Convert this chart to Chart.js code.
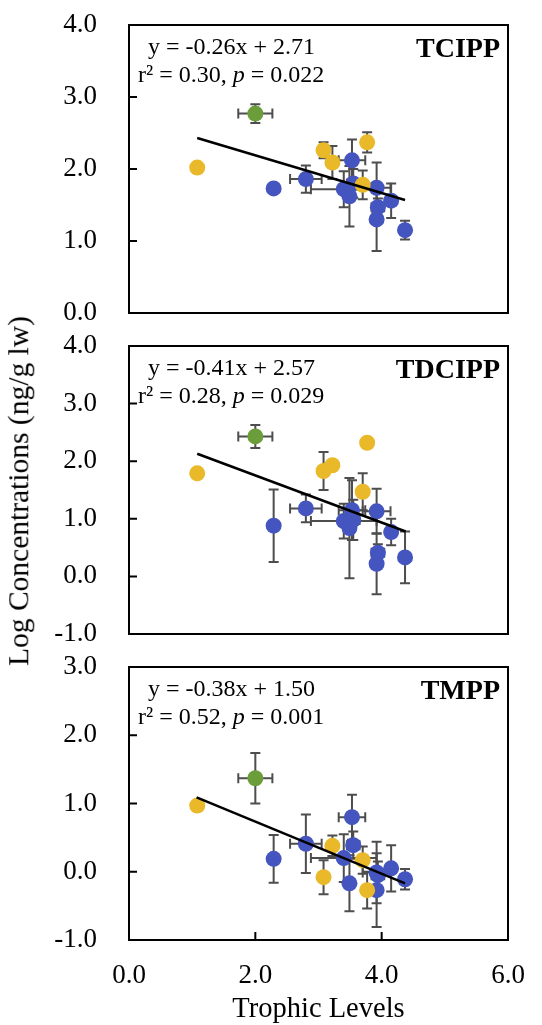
<!DOCTYPE html>
<html>
<head>
<meta charset="utf-8">
<script src="https://cdn.jsdelivr.net/npm/chart.js@4.4.0/dist/chart.umd.min.js"></script>
<style>
  html, body { margin: 0; padding: 0; background: #fff; }
  body { width: 542px; height: 1025px; position: relative; overflow: hidden; }
  .panel { position: absolute; left: 0; }
  .panel canvas { display: block; }
  #y-title {
    position: absolute; left: 19px; top: 491px;
    transform: translate(-50%, -50%) rotate(-90deg);
    white-space: nowrap; line-height: 1;
    font-family: 'Liberation Serif', 'Times New Roman', serif;
    font-size: 29.5px; color: #000;
  }
</style>
</head>
<body>
<div class="panel" style="top:0"><canvas id="chart-tcipp" width="542" height="330"></canvas></div>
<div class="panel" style="top:330px"><canvas id="chart-tdcipp" width="542" height="320"></canvas></div>
<div class="panel" style="top:650px"><canvas id="chart-tmpp" width="542" height="375"></canvas></div>
<div id="y-title">Log Concentrations (ng/g lw)</div>

<script>
// Species (same order in every panel): group colour, trophic level and its error
const speciesGroup = ['gold', 'green', 'blue', 'blue', 'gold', 'gold', 'blue', 'blue', 'blue',
                      'blue', 'gold', 'gold', 'blue', 'blue', 'blue', 'blue', 'blue'];
const trophicLevel = [1.08, 2.00, 2.29, 2.80, 3.08, 3.22, 3.40, 3.49, 3.53,
                      3.55, 3.70, 3.77, 3.92, 3.94, 3.92, 4.15, 4.37];
const trophicErr   = [0, 0.27, 0, 0.25, 0, 0, 0.52, 0.08, 0.21,
                      0.10, 0, 0, 0.22, 0.10, 0.05, 0.08, 0];

// Log concentrations and their errors
const tcippLog  = [2.02, 2.77, 1.73, 1.86, 2.26, 2.09, 1.72, 1.62, 2.12,
                   1.80, 1.78, 2.37, 1.74, 1.47, 1.30, 1.56, 1.15];
const tcippErr  = [0, 0.13, 0, 0.19, 0.11, 0.23, 0.25, 0.42, 0.29,
                   0.20, 0.20, 0.14, 0.35, 0.12, 0.44, 0.24, 0.13];
const tdcippLog = [1.79, 2.43, 0.88, 1.18, 1.83, 1.93, 0.96, 0.84, 1.15,
                   0.98, 1.47, 2.32, 1.13, 0.41, 0.22, 0.77, 0.33];
const tdcippErr = [0, 0.20, 0.63, 0.24, 0.33, 0, 0.30, 0.87, 0.52,
                   0.35, 0.32, 0.05, 0.39, 0.15, 0.53, 0.23, 0.45];
const tmppLog   = [0.97, 1.37, 0.19, 0.41, -0.08, 0.38, 0.20, -0.17, 0.80,
                   0.39, 0.17, -0.27, -0.01, -0.05, -0.27, 0.05, -0.11];
const tmppErr   = [0.05, 0.37, 0.35, 0.43, 0.25, 0.15, 0.35, 0.41, 0.33,
                   0.20, 0.20, 0.27, 0.45, 0.20, 0.54, 0.34, 0.15];

// Regression line end points
const tcippTrendX  = [1.08, 4.37];
const tcippTrendY  = [2.43, 1.57];
const tdcippTrendX = [1.08, 4.38];
const tdcippTrendY = [2.13, 0.78];
const tmppTrendX   = [1.07, 4.37];
const tmppTrendY   = [1.09, -0.17];

// Labels
const compoundNames = ['TCIPP', 'TDCIPP', 'TMPP'];
const equations = ['y = -0.26x + 2.71', 'y = -0.41x + 2.57', 'y = -0.38x + 1.50'];
const rSquared = ['0.30', '0.28', '0.52'];
const pValues = ['0.022', '0.029', '0.001'];
const yMin = [0, -1, -1];
const yMax = [4, 4, 3];
const xTickValues = [0, 2, 4, 6];
const xTitle = 'Trophic Levels';

const COLORS = { gold: '#e9b92a', green: '#6b9e3a', blue: '#4455c0' };
const FONT = "'Liberation Serif', 'Times New Roman', serif";

function groupPoints(group, values) {
  const pts = [];
  speciesGroup.forEach((g, i) => {
    if (g === group) pts.push({ x: trophicLevel[i], y: values[i] });
  });
  return pts;
}

function buildPanel(canvasId, k, values, errors, trendX, trendY, pad, showX) {
  // error bars under the markers
  const errorBars = {
    id: 'errorBars',
    beforeDatasetsDraw(chart) {
      const { ctx, scales: { x, y } } = chart;
      const cap = 5;
      ctx.save();
      ctx.strokeStyle = '#4d4d4d';
      ctx.lineWidth = 2;
      trophicLevel.forEach((tl, i) => {
        const px = x.getPixelForValue(tl);
        const py = y.getPixelForValue(values[i]);
        ctx.beginPath();
        if (errors[i] > 0) {
          const y1 = y.getPixelForValue(values[i] + errors[i]);
          const y2 = y.getPixelForValue(values[i] - errors[i]);
          ctx.moveTo(px, y1); ctx.lineTo(px, y2);
          ctx.moveTo(px - cap, y1); ctx.lineTo(px + cap, y1);
          ctx.moveTo(px - cap, y2); ctx.lineTo(px + cap, y2);
        }
        if (trophicErr[i] > 0) {
          const x1 = x.getPixelForValue(tl - trophicErr[i]);
          const x2 = x.getPixelForValue(tl + trophicErr[i]);
          ctx.moveTo(x1, py); ctx.lineTo(x2, py);
          ctx.moveTo(x1, py - cap); ctx.lineTo(x1, py + cap);
          ctx.moveTo(x2, py - cap); ctx.lineTo(x2, py + cap);
        }
        ctx.stroke();
      });
      ctx.restore();
    }
  };

  // box + inward ticks + equation text
  const frame = {
    id: 'frame',
    afterDraw(chart) {
      const { ctx, chartArea: a, scales: { x, y } } = chart;
      ctx.save();
      ctx.strokeStyle = '#000';
      ctx.lineWidth = 2;
      ctx.strokeRect(a.left, a.top, a.right - a.left, a.bottom - a.top);
      ctx.beginPath();
      y.ticks.forEach(t => {
        if (t.value <= yMin[k] || t.value >= yMax[k]) return;
        const py = y.getPixelForValue(t.value);
        ctx.moveTo(a.left, py); ctx.lineTo(a.left + 8, py);
      });
      if (showX) {
        xTickValues.slice(1, -1).forEach(v => {
          const px = x.getPixelForValue(v);
          ctx.moveTo(px, a.bottom); ctx.lineTo(px, a.bottom - 8);
        });
      }
      ctx.stroke();

      ctx.fillStyle = '#000';
      ctx.textBaseline = 'alphabetic';
      ctx.textAlign = 'left';
      ctx.font = '24px ' + FONT;
      ctx.fillText(equations[k], a.left + 19, a.top + 29);
      let tx = a.left + 9;
      const parts = [['r\u00b2 = ' + rSquared[k] + ', ', ''], ['p', 'italic '], [' = ' + pValues[k], '']];
      parts.forEach(([txt, style]) => {
        ctx.font = style + '24px ' + FONT;
        ctx.fillText(txt, tx, a.top + 57);
        tx += ctx.measureText(txt).width;
      });
      ctx.font = 'bold 28px ' + FONT;
      ctx.textAlign = 'right';
      ctx.fillText(compoundNames[k], a.right - 8, a.top + 32);
      ctx.restore();
    }
  };

  return new Chart(document.getElementById(canvasId), {
    type: 'scatter',
    data: {
      datasets: [
        {
          type: 'line',
          data: trendX.map((v, i) => ({ x: v, y: trendY[i] })),
          borderColor: '#000',
          borderWidth: 2.5,
          pointRadius: 0,
          fill: false,
          order: 0
        },
        { data: groupPoints('green', values), pointBackgroundColor: COLORS.green, order: 1 },
        { data: groupPoints('gold', values), pointBackgroundColor: COLORS.gold, order: 2 },
        { data: groupPoints('blue', values), pointBackgroundColor: COLORS.blue, order: 3 }
      ]
    },
    options: {
      responsive: false,
      animation: false,
      events: [],
      layout: { padding: pad },
      elements: { point: { radius: 8, hoverRadius: 8, borderWidth: 0 } },
      plugins: { legend: { display: false }, tooltip: { enabled: false } },
      scales: {
        x: {
          type: 'linear',
          min: 0,
          max: 6,
          display: showX,
          grid: { display: false, drawTicks: false },
          border: { display: false },
          afterBuildTicks: s => { s.ticks = xTickValues.map(v => ({ value: v })); },
          ticks: {
            callback: v => v.toFixed(1),
            font: { family: FONT, size: 27 },
            color: '#000',
            padding: 20,
            maxRotation: 0
          },
          title: {
            display: true,
            text: xTitle,
            font: { family: FONT, size: 28.5, lineHeight: 1 },
            color: '#000',
            padding: { top: 0, bottom: 1 }
          },
          afterFit: s => {
            s.height = showX ? 85 : 0;
            s.paddingLeft = 0;
            s.paddingRight = 0;
          }
        },
        y: {
          min: yMin[k],
          max: yMax[k],
          grid: { display: false, drawTicks: false },
          border: { display: false },
          ticks: {
            stepSize: 1,
            callback: v => v.toFixed(1),
            font: { family: FONT, size: 27 },
            color: '#000',
            padding: 32
          },
          afterFit: s => {
            s.width = 129;
            s.paddingTop = 0;
            s.paddingBottom = 0;
          }
        }
      }
    },
    plugins: [errorBars, frame]
  });
}

buildPanel('chart-tcipp', 0, tcippLog, tcippErr, tcippTrendX, tcippTrendY,
  { top: 25, bottom: 17, left: 0, right: 34 }, false);
buildPanel('chart-tdcipp', 1, tdcippLog, tdcippErr, tdcippTrendX, tdcippTrendY,
  { top: 16, bottom: 16, left: 0, right: 34 }, false);
buildPanel('chart-tmpp', 2, tmppLog, tmppErr, tmppTrendX, tmppTrendY,
  { top: 17, bottom: 0, left: 0, right: 34 }, true);
</script>
</body>
</html>
